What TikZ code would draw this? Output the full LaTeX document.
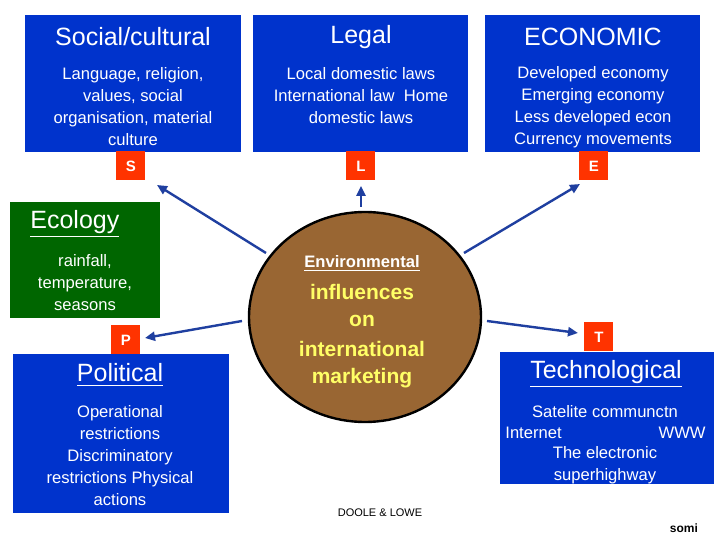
\documentclass[tikz,border=0pt]{standalone}
\usepackage{fontspec}
\setmainfont{Liberation Sans}
\usetikzlibrary{shapes.geometric,arrows.meta}
\definecolor{bbox}{HTML}{0033CC}
\definecolor{gbox}{HTML}{006600}
\definecolor{brn}{HTML}{996633}
\definecolor{rbox}{HTML}{FF3300}
\definecolor{ylw}{HTML}{FFFF66}
\definecolor{arr}{HTML}{1F3FA0}
\tikzset{
 panel/.style={fill=#1,draw=none},
 ttl/.style={text=white,font=\fontsize{12.5}{14}\selectfont,inner sep=0},
 body/.style={text=white,font=\fontsize{8.3}{11}\selectfont,inner sep=0,align=center},
 letter/.style={fill=rbox,text=white,font=\bfseries\fontsize{7.5}{8}\selectfont,minimum width=14.5pt,minimum height=14.5pt,inner sep=0},
 yl/.style={text=ylw,font=\bfseries\fontsize{10.5}{12}\selectfont,inner sep=0},
 con/.style={arr,line width=1.2pt,-{Triangle[length=5pt,width=4.5pt]}}
}
\begin{document}
\begin{tikzpicture}[x=0.5pt,y=-0.5pt]
\useasboundingbox[fill=white] (0,0) rectangle (720,540);
% panels
\fill[bbox] (25,15) rectangle (241,152);
\fill[bbox] (253,15) rectangle (468,152);
\fill[bbox] (485,15) rectangle (700,152);
\fill[gbox] (10,202) rectangle (160,318);
\fill[bbox] (13,354) rectangle (229,513);
\fill[bbox] (500,352) rectangle (714,484);
% titles and bodies
\node[ttl] (t1) at (133,37) {Social/cultural};
\node[body] (b1) at (133,107) {Language, religion,\\values, social\\organisation, material\\culture};
\node[ttl] (t2) at (361,37) {Legal};
\node[body] (b2) at (361,96) {Local domestic laws\\International law~ Home\\domestic laws};
\node[ttl] (t3) at (593,37) {ECONOMIC};
\node[body] (b3) at (593,107) {Developed economy\\Emerging economy\\Less developed econ\\Currency movements};
\node[ttl,anchor=west] (t4) at (30,224) {\underline{Ecology}};
\node[body] (b4) at (85,283) {rainfall,\\temperature,\\seasons};
\node[ttl] (t5) at (120,375) {\underline{Political}};
\node[body] (b5) at (120,456) {Operational\\restrictions\\Discriminatory\\restrictions Physical\\actions};
\node[ttl] (t6) at (606,374) {\underline{Technological}};
\node[body] (b6a) at (605,412) {Satelite communctn};
\node[body,anchor=west] (b6b) at (505,433) {Internet};
\node[body,anchor=east] (b6c) at (706,433) {WWW};
\node[body] (b6d) at (605,465) {The electronic\\superhighway};
% letters
\node[letter] (S) at (131,166) {S};
\node[letter] (L) at (361,166) {L};
\node[letter] (E) at (594,166) {E};
\node[letter] (P) at (126,340) {P};
\node[letter] (T) at (599,337) {T};
% ellipse
\node[ellipse,draw=black,line width=1.2pt,fill=brn,minimum width=116pt,minimum height=105pt,inner sep=0] (ell) at (365,317) {};
\node[text=white,font=\bfseries\fontsize{8.3}{10}\selectfont,inner sep=0] (e1) at (362,264) {\underline{Environmental}};
\node[yl] (e2) at (362,292) {influences};
\node[yl] (e3) at (362,321) {on};
\node[yl] (e4) at (362,349) {international};
\node[yl] (e5) at (362,378) {marketing};
% connectors
\coordinate (aS) at (266,253); \coordinate (zS) at (157,185);
\coordinate (aL) at (361,207); \coordinate (zL) at (361,186);
\coordinate (aE) at (464,253); \coordinate (zE) at (580,184);
\coordinate (aP) at (242,321); \coordinate (zP) at (145,338);
\coordinate (aT) at (487,321); \coordinate (zT) at (578,333);
\draw[con] (aS) -- (zS);
\draw[con] (aL) -- (zL);
\draw[con] (aE) -- (zE);
\draw[con] (aP) -- (zP);
\draw[con] (aT) -- (zT);
\node[font=\fontsize{5.5}{6}\selectfont,inner sep=0] (d) at (380,513) {DOOLE \& LOWE};
\node[font=\bfseries\fontsize{6}{7}\selectfont,inner sep=0] (so) at (684,528) {somi};
\end{tikzpicture}
\end{document}
